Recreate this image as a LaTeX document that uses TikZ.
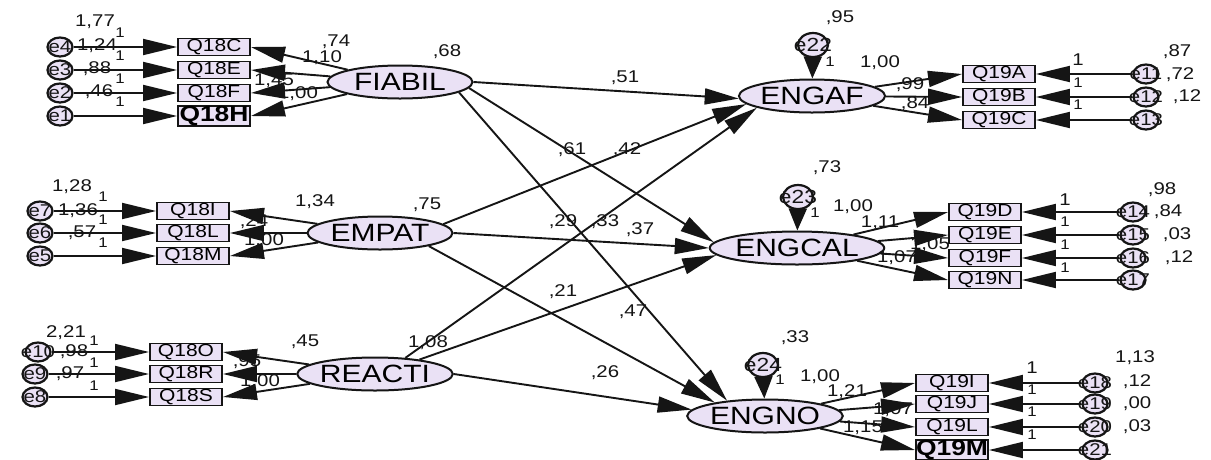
\documentclass[tikz,border=0pt]{standalone}
\usepackage{fontspec}
\setmainfont{Liberation Sans}[FakeStretch=1.2]
\usetikzlibrary{arrows.meta,shapes.geometric}
\definecolor{lav}{HTML}{EAE1F5}
\definecolor{ink}{HTML}{151515}
\tikzset{
  obs/.style={rectangle,draw=ink,line width=1.9pt,fill=lav,minimum width=72pt,minimum height=17pt,inner sep=0pt,font=\fontsize{17.5}{17.5}\selectfont},
  obsbig/.style={obs,font=\fontsize{22}{22}\selectfont\bfseries},
  lat/.style={ellipse,draw=ink,line width=2pt,fill=lav,minimum width=145pt,minimum height=33pt,inner sep=0pt,font=\fontsize{25}{25}\selectfont},
  err/.style={ellipse,draw=ink,line width=2.2pt,fill=lav,minimum width=25pt,minimum height=19pt,inner sep=0pt},
  errbig/.style={err,minimum width=30pt,minimum height=24pt},
  errt/.style={inner sep=0pt,font=\fontsize{17}{17}\selectfont,text=ink},
  num/.style={inner sep=0pt,font=\fontsize{17}{17}\selectfont,text=ink},
  one/.style={inner sep=0pt,font=\fontsize{14}{14}\selectfont,text=ink},
  arr/.style={draw=ink,line width=1.9pt,-{Triangle[length=34pt,width=16pt]}},
  resarr/.style={draw=ink,line width=1.9pt,-{Triangle[length=22pt,width=18pt]}},
}
\begin{document}
\begin{tikzpicture}[x=1pt,y=-1pt]
\fill[white] (0,0) rectangle (1211,459);
\useasboundingbox (0,0) rectangle (1211,459);

% ---------------- FIABIL block
\node[lat] (FIABIL) at (400,82) {FIABIL};
\node[obs] (Q18C) at (214,47) {Q18C};
\node[obs] (Q18E) at (214,70) {Q18E};
\node[obs] (Q18F) at (214,93) {Q18F};
\node[obsbig] (Q18H) at (214,116) {Q18H};
\node[err] (e4) at (60,47) {}; \node[errt] at (e4) {e4};
\node[err] (e3) at (60,70) {}; \node[errt] at (e3) {e3};
\node[err] (e2) at (60,93) {}; \node[errt] at (e2) {e2};
\node[err] (e1) at (60,116) {}; \node[errt] at (e1) {e1};
\foreach \e/\q in {e4/Q18C,e3/Q18E,e2/Q18F,e1/Q18H}{\draw[arr] (\e) -- (\q);}
\foreach \q in {Q18C,Q18E,Q18F,Q18H}{\draw[arr] (FIABIL) -- (\q.east);}
\node[num] at (95,22) {1,77};
\node[num] at (97,46) {1,24};
\node[num] at (97,69) {,88};
\node[num] at (99,92) {,46};
\foreach \y in {33,56,79,102}{\node[one] at (120,\y) {1};}
\node[num] at (336,42) {,74};
\node[num] at (322,58) {1,10};
\node[num] at (274,81) {1,45};
\node[num] at (298,94) {1,00};
\node[num] at (447,52) {,68};

% ---------------- EMPAT block
\node[lat] (EMPAT) at (380,233) {EMPAT};
\node[obs] (Q18I) at (193,211) {Q18I};
\node[obs] (Q18L) at (193,233) {Q18L};
\node[obs] (Q18M) at (193,256) {Q18M};
\node[err] (e7) at (40,211) {}; \node[errt] at (e7) {e7};
\node[err] (e6) at (40,233) {}; \node[errt] at (e6) {e6};
\node[err] (e5) at (40,256) {}; \node[errt] at (e5) {e5};
\foreach \e/\q in {e7/Q18I,e6/Q18L,e5/Q18M}{\draw[arr] (\e) -- (\q);}
\foreach \q in {Q18I,Q18L,Q18M}{\draw[arr] (EMPAT) -- (\q.east);}
\node[num] at (72,187) {1,28};
\node[num] at (78,211) {1,36};
\node[num] at (82,233) {,57};
\foreach \y in {197,220,243}{\node[one] at (103,\y) {1};}
\node[num] at (315,202) {1,34};
\node[num] at (427,205) {,75};
\node[num] at (254,222) {,24};
\node[num] at (264,241) {1,00};

% ---------------- REACTI block
\node[lat] (REACTI) at (375,374) {REACTI};
\node[obs] (Q18O) at (186,352) {Q18O};
\node[obs] (Q18R) at (186,374) {Q18R};
\node[obs] (Q18S) at (186,397) {Q18S};
\node[err] (e10) at (38,352) {}; \node[errt] at (e10) {e10};
\node[err] (e9) at (35,374) {}; \node[errt] at (e9) {e9};
\node[err] (e8) at (35,397) {}; \node[errt] at (e8) {e8};
\foreach \e/\q in {e10/Q18O,e9/Q18R,e8/Q18S}{\draw[arr] (\e) -- (\q);}
\foreach \q in {Q18O,Q18R,Q18S}{\draw[arr] (REACTI) -- (\q.east);}
\node[num] at (66,333) {2,21};
\node[num] at (74,352) {,98};
\node[num] at (70,374) {,97};
\foreach \y in {341,363,386}{\node[one] at (94,\y) {1};}
\node[num] at (305,342) {,45};
\node[num] at (247,362) {,95};
\node[num] at (260,382) {1,00};
\node[num] at (428,343) {1,08};

% ---------------- ENGAF block
\node[lat] (ENGAF) at (812,96) {ENGAF};
\node[errbig] (e22) at (813,45) {}; \node[errt,font=\fontsize{19}{19}\selectfont] at (e22) {e22};
\draw[resarr] (e22) -- (ENGAF);
\node[obs] (Q19A) at (999,74) {Q19A};
\node[obs] (Q19B) at (999,97) {Q19B};
\node[obs] (Q19C) at (999,120) {Q19C};
\node[err] (e11) at (1146,74) {}; \node[errt] at (e11) {e11};
\node[err] (e12) at (1146,97) {}; \node[errt] at (e12) {e12};
\node[err] (e13) at (1146,120) {}; \node[errt] at (e13) {e13};
\foreach \q in {Q19A,Q19B,Q19C}{\draw[arr] (ENGAF) -- (\q.west);}
\foreach \e/\q in {e11/Q19A,e12/Q19B,e13/Q19C}{\draw[arr] (\e) -- (\q);}
\node[num] at (840,18) {,95};
\node[one] at (830,62) {1};
\node[num] at (880,63) {1,00};
\node[num] at (910,85) {,99};
\node[num] at (915,104) {,84};
\node[num] at (1078,60) {1};
\foreach \y in {83,105}{\node[one] at (1078,\y) {1};}
\node[num] at (1177,52) {,87};
\node[num] at (1180,75) {,72};
\node[num] at (1187,97) {,12};

% ---------------- ENGCAL block
\node[lat] (ENGCAL) at (797,248) {ENGCAL};
\node[errbig] (e23) at (798,197) {}; \node[errt,font=\fontsize{19}{19}\selectfont] at (e23) {e23};
\draw[resarr] (e23) -- (ENGCAL);
\node[obs] (Q19D) at (985,212) {Q19D};
\node[obs] (Q19E) at (985,235) {Q19E};
\node[obs] (Q19F) at (985,258) {Q19F};
\node[obs] (Q19N) at (985,280) {Q19N};
\node[err] (e14) at (1133,212) {}; \node[errt] at (e14) {e14};
\node[err] (e15) at (1133,235) {}; \node[errt] at (e15) {e15};
\node[err] (e16) at (1133,258) {}; \node[errt] at (e16) {e16};
\node[err] (e17) at (1133,280) {}; \node[errt] at (e17) {e17};
\foreach \q in {Q19D,Q19E,Q19F,Q19N}{\draw[arr] (ENGCAL) -- (\q.west);}
\foreach \e/\q in {e14/Q19D,e15/Q19E,e16/Q19F,e17/Q19N}{\draw[arr] (\e) -- (\q);}
\node[num] at (827,168) {,73};
\node[one] at (815,213) {1};
\node[num] at (853,207) {1,00};
\node[num] at (880,223) {1,11};
\node[num] at (930,245) {1,05};
\node[num] at (897,258) {1,07};
\node[num] at (1065,200) {1};
\foreach \y in {222,245,268}{\node[one] at (1065,\y) {1};}
\node[num] at (1162,190) {,98};
\node[num] at (1168,212) {,84};
\node[num] at (1177,235) {,03};
\node[num] at (1179,258) {,12};

% ---------------- ENGNO block
\node[lat] (ENGNO) at (765,416) {ENGNO};
\node[errbig] (e24) at (763,365) {}; \node[errt,font=\fontsize{19}{19}\selectfont] at (e24) {e24};
\draw[resarr] (e24) -- (ENGNO);
\node[obs] (Q19I) at (952,383) {Q19I};
\node[obs] (Q19J) at (952,404) {Q19J};
\node[obs] (Q19L) at (952,427) {Q19L};
\node[obsbig] (Q19M) at (952,450) {Q19M};
\node[err] (e18) at (1095,383) {}; \node[errt] at (e18) {e18};
\node[err] (e19) at (1095,404) {}; \node[errt] at (e19) {e19};
\node[err] (e20) at (1095,427) {}; \node[errt] at (e20) {e20};
\node[err] (e21) at (1095,450) {}; \node[errt] at (e21) {e21};
\foreach \q in {Q19I,Q19J,Q19L,Q19M}{\draw[arr] (ENGNO) -- (\q.west);}
\foreach \e/\q in {e18/Q19I,e19/Q19J,e20/Q19L,e21/Q19M}{\draw[arr] (\e) -- (\q);}
\node[num] at (795,338) {,33};
\node[one] at (780,380) {1};
\node[num] at (820,377) {1,00};
\node[num] at (847,392) {1,21};
\node[num] at (893,410) {1,07};
\node[num] at (863,428) {1,15};
\node[num] at (1032,368) {1};
\foreach \y in {390,412,435}{\node[one] at (1032,\y) {1};}
\node[num] at (1135,358) {1,13};
\node[num] at (1137,382) {,12};
\node[num] at (1137,404) {,00};
\node[num] at (1137,427) {,03};

% ---------------- structural paths
\draw[arr] (FIABIL.east) -- (ENGAF.182);
\draw[arr] (FIABIL.355) -- (ENGCAL.176);
\draw[arr] (FIABIL.350) -- (ENGNO.158);
\draw[arr] (EMPAT.8) -- (ENGAF.187);
\draw[arr] (EMPAT.east) -- (ENGCAL.180);
\draw[arr] (EMPAT.345) -- (ENGNO.165);
\draw[arr] (REACTI.28) -- (ENGAF.192);
\draw[arr] (REACTI.18) -- (ENGCAL.185);
\draw[arr] (REACTI.east) -- (ENGNO.175);
\node[num] at (625,78) {,51};
\node[num] at (572,150) {,61};
\node[num] at (627,150) {,42};
\node[num] at (563,222) {,29};
\node[num] at (605,222) {,33};
\node[num] at (640,230) {,37};
\node[num] at (563,292) {,21};
\node[num] at (633,312) {,47};
\node[num] at (605,373) {,26};
\end{tikzpicture}
\end{document}
